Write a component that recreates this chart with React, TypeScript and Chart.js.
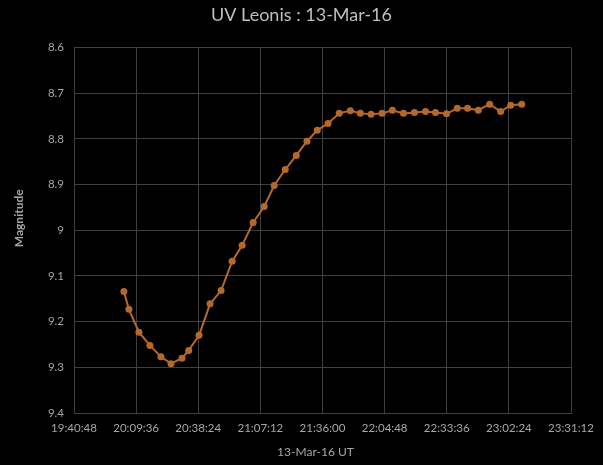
import React, { useEffect, useRef } from "react";
import { Chart, registerables } from "chart.js";

Chart.register(...registerables);

const TITLE = "UV Leonis : 13-Mar-16";
const X_TITLE = "13-Mar-16 UT";
const Y_TITLE = "Magnitude";

const obsTimes = [
  "20:03:56", "20:06:15", "20:10:54", "20:16:01", "20:21:07", "20:25:46",
  "20:30:52", "20:33:59", "20:38:46", "20:43:53", "20:48:59", "20:54:06",
  "20:58:45", "21:03:51", "21:08:58", "21:13:36", "21:18:43", "21:23:50",
  "21:28:48", "21:33:35", "21:38:33", "21:43:45", "21:48:54", "21:53:33",
  "21:58:31", "22:03:38", "22:08:25", "22:13:32", "22:18:38", "22:23:45",
  "22:28:23", "22:33:30", "22:38:28", "22:43:15", "22:48:14", "22:53:29",
  "22:58:35", "23:03:14", "23:08:20",
];

const magnitudes = [
  9.134, 9.173, 9.223, 9.252, 9.277, 9.292,
  9.28, 9.263, 9.23, 9.161, 9.132, 9.068,
  9.033, 8.983, 8.948, 8.902, 8.867, 8.836,
  8.805, 8.781, 8.766, 8.744, 8.738, 8.744,
  8.746, 8.744, 8.737, 8.744, 8.742, 8.74,
  8.742, 8.745, 8.733, 8.733, 8.737, 8.724,
  8.74, 8.726, 8.724,
];

const X_MIN = "19:40:48";
const X_MAX = "23:31:12";
const X_STEP = "00:28:48";
const Y_MIN = 8.6;
const Y_MAX = 9.4;
const Y_STEP = 0.1;

const toSec = (s: string) => {
  const [h, m, sec] = s.split(":").map(Number);
  return h * 3600 + m * 60 + sec;
};
const fmtTime = (v: number) => {
  const t = Math.round(v);
  const h = Math.floor(t / 3600);
  const m = Math.floor((t % 3600) / 60);
  const s = t % 60;
  const p = (n: number) => String(n).padStart(2, "0");
  return `${p(h)}:${p(m)}:${p(s)}`;
};

const LINE = "#b5682b";
const GRID = "#3f3f3f";
const TICK = "#a6a6a6";
const FONT = "Lato";

// Axis titles drawn as canvas text, placed like the original (offset from the plot centre)
const axisTitles = {
  id: "axisTitles",
  afterDraw(chart: any) {
    const { ctx, chartArea } = chart;
    ctx.save();
    ctx.fillStyle = TICK;
    ctx.textAlign = "center";
    ctx.textBaseline = "middle";
    ctx.font = `normal 12px ${FONT}`;
    const cx = (chartArea.left + chartArea.right) / 2 - 7;
    ctx.fillText(X_TITLE, cx, chart.height - 13);
    ctx.font = `bold 12px ${FONT}`;
    const cy = (chartArea.top + chartArea.bottom) / 2 - 12;
    ctx.translate(19, cy);
    ctx.rotate(-Math.PI / 2);
    ctx.fillText(Y_TITLE, 0, 0);
    ctx.restore();
  },
};

export default function App() {
  const ref = useRef<HTMLCanvasElement>(null);

  useEffect(() => {
    document.body.style.margin = "0";
    document.body.style.background = "#000";
    const ctx = ref.current!;
    const data = obsTimes.map((t, i) => ({ x: toSec(t), y: magnitudes[i] }));
    const chart = new Chart(ctx, {
      type: "line",
      data: {
        datasets: [
          {
            data,
            borderColor: LINE,
            backgroundColor: LINE,
            borderWidth: 2,
            pointRadius: 3.5,
            pointBackgroundColor: LINE,
            pointBorderColor: LINE,
            pointBorderWidth: 0,
            tension: 0,
          },
        ],
      },
      plugins: [axisTitles],
      options: {
        animation: false,
        responsive: false,
        maintainAspectRatio: false,
        layout: { padding: 0 },
        plugins: {
          legend: { display: false },
          tooltip: { enabled: false },
          title: {
            display: true,
            text: TITLE,
            color: "#bfbfbf",
            font: { family: FONT, size: 18, weight: "normal" },
            padding: { top: 4, bottom: 22 },
          },
        },
        scales: {
          x: {
            type: "linear",
            min: toSec(X_MIN),
            max: toSec(X_MAX),
            afterBuildTicks: (scale: any) => {
              const ticks = [];
              for (let v = toSec(X_MIN); v <= toSec(X_MAX); v += toSec(X_STEP)) ticks.push({ value: v });
              scale.ticks = ticks;
            },
            afterFit: (scale: any) => {
              scale.height = 52;
            },
            ticks: {
              color: TICK,
              font: { family: FONT, size: 11.5 },
              padding: 8,
              maxRotation: 0,
              autoSkip: false,
              callback: (v: any) => fmtTime(Number(v)),
            },
            grid: { color: GRID, lineWidth: 1, drawTicks: false },
            border: { color: GRID },
            title: { display: false },
          },
          y: {
            type: "linear",
            reverse: true,
            min: Y_MIN,
            max: Y_MAX,
            afterFit: (scale: any) => {
              scale.width = 74;
            },
            ticks: {
              stepSize: Y_STEP,
              color: TICK,
              font: { family: FONT, size: 11.5 },
              padding: 10,
              callback: (v: any) => String(parseFloat(Number(v).toFixed(1))),
            },
            grid: { color: GRID, lineWidth: 1, drawTicks: false },
            border: { color: GRID },
            title: { display: false },
          },
          yRightSpace: {
            type: "linear",
            position: "right",
            display: true,
            min: Y_MIN,
            max: Y_MAX,
            afterFit: (scale: any) => {
              scale.width = 32;
            },
            ticks: { display: false },
            grid: { display: false, drawTicks: false },
            border: { display: false },
          },
        },
      },
    });
    return () => chart.destroy();
  }, []);

  return (
    <div style={{ width: 603, height: 465, background: "#000" }}>
      <canvas ref={ref} width={603} height={465} style={{ display: "block" }} />
    </div>
  );
}
